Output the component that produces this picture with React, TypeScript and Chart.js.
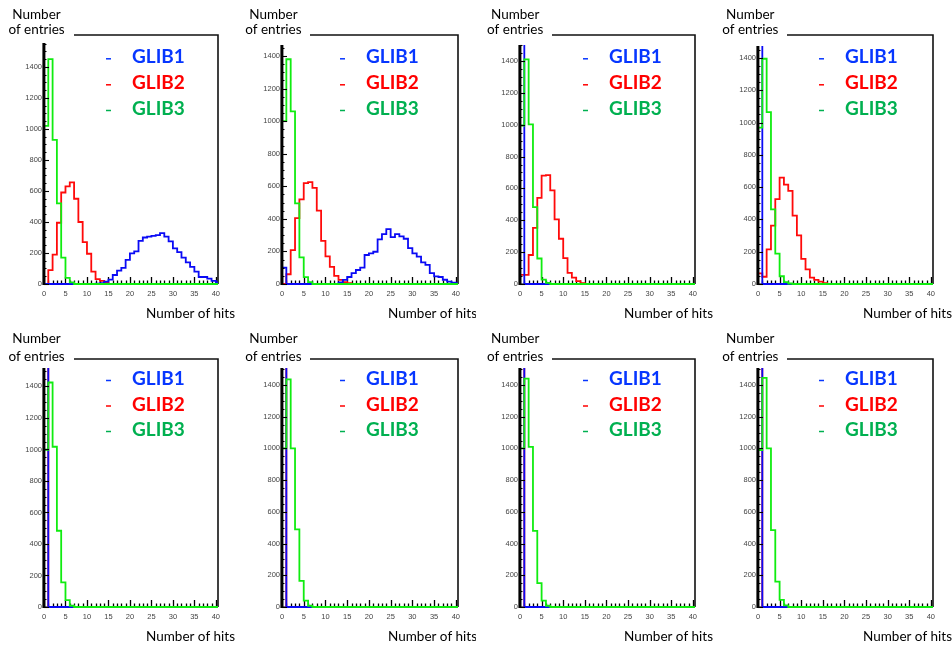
import React, { useEffect, useRef } from 'react';
import { Chart, registerables } from 'chart.js';

Chart.register(...registerables);

// ---------- data ----------
// lower edges of the 1-hit-wide bins, plus the closing edge
const binEdges = [
  0, 1, 2, 3, 4, 5, 6, 7, 8, 9,
  10, 11, 12, 13, 14, 15, 16, 17, 18, 19,
  20, 21, 22, 23, 24, 25, 26, 27, 28, 29,
  30, 31, 32, 33, 34, 35, 36, 37, 38, 39,
  40, 41,
];
const xTickValues = [0, 5, 10, 15, 20, 25, 30, 35, 40];
const yTickValues = [0, 200, 400, 600, 800, 1000, 1200, 1400];
const seriesNames = ['GLIB1', 'GLIB2', 'GLIB3'];
const yTitleLines = ['Number', 'of entries'];
const xTitle = 'Number of hits';

// panel 1 (top left)
const p1Glib1 = [
  0, 0, 0, 0, 0, 0, 0, 0, 0, 0,
  0, 0, 2, 5, 15, 28, 58, 86, 104, 155,
  198, 210, 278, 300, 305, 310, 315, 328, 305, 275,
  230, 205, 170, 140, 110, 80, 45, 45, 35, 20,
  10,
];
const p1Glib2 = [
  0, 90, 190, 395, 590, 630, 655, 550, 400, 270,
  195, 80, 32, 20, 8, 0, 0, 0, 0, 0,
  0, 0, 0, 0, 0, 0, 0, 0, 0, 0,
  0, 0, 0, 0, 0, 0, 0, 0, 0, 0,
  0,
];
const p1Glib3 = [
  1020, 1450, 930, 520, 170, 40, 10, 0, 0, 0,
  0, 0, 0, 0, 0, 0, 0, 0, 0, 0,
  0, 0, 0, 0, 0, 0, 0, 0, 0, 0,
  0, 0, 0, 0, 0, 0, 0, 0, 0, 0,
  0,
];

// panel 2
const p2Glib1 = [
  100, 0, 0, 0, 0, 0, 0, 0, 0, 0,
  0, 0, 0, 10, 25, 43, 67, 86, 100, 178,
  188, 198, 274, 306, 337, 288, 306, 292, 278, 220,
  188, 168, 133, 117, 67, 47, 43, 26, 15, 8,
  4,
];
const p2Glib2 = [
  0, 60, 208, 405, 520, 620, 625, 590, 450, 265,
  170, 105, 50, 25, 12, 5, 0, 0, 0, 0,
  0, 0, 0, 0, 0, 0, 0, 0, 0, 0,
  0, 0, 0, 0, 0, 0, 0, 0, 0, 0,
  0,
];
const p2Glib3 = [
  1000, 1380, 1060, 495, 163, 42, 12, 0, 0, 0,
  0, 0, 0, 0, 0, 0, 0, 0, 0, 0,
  0, 0, 0, 0, 0, 0, 0, 0, 0, 0,
  0, 0, 0, 0, 0, 0, 0, 0, 0, 0,
  0,
];

// panel 3
const p3Glib1 = [
  4100, 0, 0, 0, 0, 0, 0, 0, 0, 0,
  0, 0, 0, 0, 0, 0, 0, 0, 0, 0,
  0, 0, 0, 0, 0, 0, 0, 0, 0, 0,
  0, 0, 0, 0, 0, 0, 0, 0, 0, 0,
  0,
];
const p3Glib2 = [
  57, 57, 182, 352, 541, 680, 684, 588, 406, 284,
  162, 70, 40, 18, 6, 0, 0, 0, 0, 0,
  0, 0, 0, 0, 0, 0, 0, 0, 0, 0,
  0, 0, 0, 0, 0, 0, 0, 0, 0, 0,
  0,
];
const p3Glib3 = [
  995, 1410, 1002, 482, 160, 28, 7, 0, 0, 0,
  0, 0, 0, 0, 0, 0, 0, 0, 0, 0,
  0, 0, 0, 0, 0, 0, 0, 0, 0, 0,
  0, 0, 0, 0, 0, 0, 0, 0, 0, 0,
  0,
];

// panel 4
const p4Glib1 = [
  4100, 0, 0, 0, 0, 0, 0, 0, 0, 0,
  0, 0, 0, 0, 0, 0, 0, 0, 0, 0,
  0, 0, 0, 0, 0, 0, 0, 0, 0, 0,
  0, 0, 0, 0, 0, 0, 0, 0, 0, 0,
  0,
];
const p4Glib2 = [
  66, 45, 215, 362, 525, 659, 615, 577, 424, 301,
  156, 90, 40, 25, 15, 5, 0, 0, 0, 0,
  0, 0, 0, 0, 0, 0, 0, 0, 0, 0,
  0, 0, 0, 0, 0, 0, 0, 0, 0, 0,
  0,
];
const p4Glib3 = [
  969, 1395, 1064, 462, 188, 48, 12, 3, 0, 0,
  0, 0, 0, 0, 0, 0, 0, 0, 0, 0,
  0, 0, 0, 0, 0, 0, 0, 0, 0, 0,
  0, 0, 0, 0, 0, 0, 0, 0, 0, 0,
  0,
];

// panel 5 (bottom left)
const p5Glib1 = [
  4100, 0, 0, 0, 0, 0, 0, 0, 0, 0,
  0, 0, 0, 0, 0, 0, 0, 0, 0, 0,
  0, 0, 0, 0, 0, 0, 0, 0, 0, 0,
  0, 0, 0, 0, 0, 0, 0, 0, 0, 0,
  0,
];
const p5Glib2 = [
  4100, 0, 0, 0, 0, 0, 0, 0, 0, 0,
  0, 0, 0, 0, 0, 0, 0, 0, 0, 0,
  0, 0, 0, 0, 0, 0, 0, 0, 0, 0,
  0, 0, 0, 0, 0, 0, 0, 0, 0, 0,
  0,
];
const p5Glib3 = [
  998, 1425, 1017, 484, 156, 44, 8, 0, 0, 0,
  0, 0, 0, 0, 0, 0, 0, 0, 0, 0,
  0, 0, 0, 0, 0, 0, 0, 0, 0, 0,
  0, 0, 0, 0, 0, 0, 0, 0, 0, 0,
  0,
];

// panel 6
const p6Glib1 = [
  4100, 0, 0, 0, 0, 0, 0, 0, 0, 0,
  0, 0, 0, 0, 0, 0, 0, 0, 0, 0,
  0, 0, 0, 0, 0, 0, 0, 0, 0, 0,
  0, 0, 0, 0, 0, 0, 0, 0, 0, 0,
  0,
];
const p6Glib2 = [
  4100, 0, 0, 0, 0, 0, 0, 0, 0, 0,
  0, 0, 0, 0, 0, 0, 0, 0, 0, 0,
  0, 0, 0, 0, 0, 0, 0, 0, 0, 0,
  0, 0, 0, 0, 0, 0, 0, 0, 0, 0,
  0,
];
const p6Glib3 = [
  1000, 1435, 1000, 490, 165, 40, 8, 0, 0, 0,
  0, 0, 0, 0, 0, 0, 0, 0, 0, 0,
  0, 0, 0, 0, 0, 0, 0, 0, 0, 0,
  0, 0, 0, 0, 0, 0, 0, 0, 0, 0,
  0,
];

// panel 7
const p7Glib1 = [
  4100, 0, 0, 0, 0, 0, 0, 0, 0, 0,
  0, 0, 0, 0, 0, 0, 0, 0, 0, 0,
  0, 0, 0, 0, 0, 0, 0, 0, 0, 0,
  0, 0, 0, 0, 0, 0, 0, 0, 0, 0,
  0,
];
const p7Glib2 = [
  4100, 0, 0, 0, 0, 0, 0, 0, 0, 0,
  0, 0, 0, 0, 0, 0, 0, 0, 0, 0,
  0, 0, 0, 0, 0, 0, 0, 0, 0, 0,
  0, 0, 0, 0, 0, 0, 0, 0, 0, 0,
  0,
];
const p7Glib3 = [
  1000, 1440, 1010, 480, 150, 40, 8, 0, 0, 0,
  0, 0, 0, 0, 0, 0, 0, 0, 0, 0,
  0, 0, 0, 0, 0, 0, 0, 0, 0, 0,
  0, 0, 0, 0, 0, 0, 0, 0, 0, 0,
  0,
];

// panel 8
const p8Glib1 = [
  4100, 0, 0, 0, 0, 0, 0, 0, 0, 0,
  0, 0, 0, 0, 0, 0, 0, 0, 0, 0,
  0, 0, 0, 0, 0, 0, 0, 0, 0, 0,
  0, 0, 0, 0, 0, 0, 0, 0, 0, 0,
  0,
];
const p8Glib2 = [
  4100, 0, 0, 0, 0, 0, 0, 0, 0, 0,
  0, 0, 0, 0, 0, 0, 0, 0, 0, 0,
  0, 0, 0, 0, 0, 0, 0, 0, 0, 0,
  0, 0, 0, 0, 0, 0, 0, 0, 0, 0,
  0,
];
const p8Glib3 = [
  990, 1445, 1000, 485, 160, 45, 10, 0, 0, 0,
  0, 0, 0, 0, 0, 0, 0, 0, 0, 0,
  0, 0, 0, 0, 0, 0, 0, 0, 0, 0,
  0, 0, 0, 0, 0, 0, 0, 0, 0, 0,
  0,
];

const panelSeries = [
  [p1Glib1, p1Glib2, p1Glib3],
  [p2Glib1, p2Glib2, p2Glib3],
  [p3Glib1, p3Glib2, p3Glib3],
  [p4Glib1, p4Glib2, p4Glib3],
  [p5Glib1, p5Glib2, p5Glib3],
  [p6Glib1, p6Glib2, p6Glib3],
  [p7Glib1, p7Glib2, p7Glib3],
  [p8Glib1, p8Glib2, p8Glib3],
];
const panelYMax = [1606, 1529, 1563, 1542, 1574, 1564, 1564, 1564];
const xMax = 40.5;

// ---------- styles / layout ----------
const PANEL_W = 238;
const PANEL_H = 323;
const lineColors = ['#0a0af5', '#ff0a0a', '#10ec10'];
const legendColors = ['#0636ff', '#ff0000', '#00b050'];
const seriesOrder = [1, 2, 0];

const colLayout = [
  { titleCenterX: 36.5, frameStartX: 74, legendX: 132, hitsX: 146, right: 218 },
  { titleCenterX: 35.4, frameStartX: 72, legendX: 128, hitsX: 150, right: 220 },
  { titleCenterX: 39.2, frameStartX: 76, legendX: 133, hitsX: 148, right: 219 },
  { titleCenterX: 36.3, frameStartX: 73, legendX: 131, hitsX: 149, right: 219 },
];
const rowLayout = [
  { top: 35, numberBase: 18.5, entriesBase: 34.3, legendBase: [63.3, 89.3, 115] },
  { top: 36, numberBase: 20.3, entriesBase: 37.6, legendBase: [62, 87.5, 113] },
];
const axisTopOffsets = [8, 10, 10, 11, 9, 9, 9, 9];

const decorPlugin = {
  id: 'decor',
  beforeDatasetsDraw(chart: any, _args: any, o: any) {
    const { ctx, chartArea: a, scales } = chart;
    const x = scales.x;
    ctx.save();
    ctx.strokeStyle = '#111';
    ctx.lineWidth = 1.6;
    ctx.beginPath();
    ctx.moveTo(o.frameStartX, a.top);
    ctx.lineTo(a.right, a.top);
    ctx.lineTo(a.right, a.bottom);
    ctx.stroke();
    ctx.strokeStyle = '#000';
    ctx.lineWidth = 1;
    ctx.beginPath();
    ctx.moveTo(a.left, a.bottom);
    ctx.lineTo(a.right, a.bottom);
    ctx.stroke();
    ctx.lineWidth = 1.3;
    for (let v = 0; v <= 40; v += 1) {
      const px = Math.round(x.getPixelForValue(v)) + 0.5;
      const len = v % 5 === 0 ? 7 : 3.5;
      ctx.beginPath();
      ctx.moveTo(px, a.bottom);
      ctx.lineTo(px, a.bottom - len);
      ctx.stroke();
    }
    ctx.restore();
  },
  afterDatasetsDraw(chart: any, _args: any, o: any) {
    const { ctx, chartArea: a, scales } = chart;
    const y = scales.y;
    const axisTop = a.top + o.axisTopOffset;
    ctx.save();
    ctx.fillStyle = '#000';
    ctx.fillRect(a.left - 1.6, axisTop, 3, a.bottom - axisTop + 1);
    const topVal = y.getValueForPixel(axisTop);
    ctx.strokeStyle = '#000';
    ctx.lineWidth = 1.1;
    for (let v = 0; v <= topVal; v += 50) {
      const py = Math.round(y.getPixelForValue(v)) + 0.5;
      const len = v % 200 === 0 ? 5 : 2.5;
      ctx.beginPath();
      ctx.moveTo(a.left, py);
      ctx.lineTo(a.left + len, py);
      ctx.stroke();
    }
    ctx.restore();
  },
  afterDraw(chart: any, _args: any, o: any) {
    const { ctx } = chart;
    ctx.save();
    ctx.fillStyle = '#000';
    ctx.font = '13.5px Lato, "Liberation Sans", sans-serif';
    ctx.textBaseline = 'alphabetic';
    ctx.textAlign = 'center';
    ctx.fillText(yTitleLines[0], o.titleCenterX, o.numberBase);
    ctx.fillText(yTitleLines[1], o.titleCenterX, o.entriesBase);
    ctx.textAlign = 'left';
    ctx.fillText(xTitle, o.hitsX, 317.5);
    ctx.font = 'bold 19px Lato, "Liberation Sans", sans-serif';
    seriesNames.forEach((name, i) => {
      const base = o.legendBase[i];
      ctx.fillStyle = legendColors[i];
      ctx.fillText(name, o.legendX, base);
      ctx.strokeStyle = legendColors[i];
      ctx.lineWidth = 1.5;
      ctx.beginPath();
      ctx.moveTo(o.legendX - 26, base - 4.5);
      ctx.lineTo(o.legendX - 21, base - 4.5);
      ctx.stroke();
    });
    ctx.restore();
  },
};

function histPoints(values: number[]) {
  const pts = [{ x: binEdges[0], y: 0 }];
  values.forEach((v, i) => pts.push({ x: binEdges[i], y: v }));
  pts.push({ x: binEdges[values.length], y: values[values.length - 1] });
  return pts;
}

function HistPanel({ index }: { index: number }) {
  const ref = useRef<HTMLCanvasElement | null>(null);
  const col = index % 4;
  const row = Math.floor(index / 4);

  useEffect(() => {
    const cl = colLayout[col];
    const rl = rowLayout[row];
    const axisTopOffset = axisTopOffsets[index];
    const tickFont = { family: '"Liberation Sans", Arial, sans-serif', size: 7.5 };
    const chart = new Chart(ref.current as HTMLCanvasElement, {
      type: 'line',
      data: {
        datasets: panelSeries[index].map((vals, i) => ({
          label: seriesNames[i],
          data: histPoints(vals),
          borderColor: lineColors[i],
          backgroundColor: lineColors[i],
          borderWidth: 1.8,
          pointRadius: 0,
          pointHoverRadius: 0,
          stepped: true,
          fill: false,
          tension: 0,
          order: seriesOrder[i],
          clip: { left: 2, top: -axisTopOffset, right: 0, bottom: 2 },
        })),
      },
      options: {
        animation: false,
        responsive: false,
        events: [],
        layout: { padding: { left: 0, right: PANEL_W - cl.right, top: rl.top, bottom: 0 } },
        plugins: {
          legend: { display: false },
          tooltip: { enabled: false },
          decor: {
            frameStartX: cl.frameStartX,
            titleCenterX: cl.titleCenterX,
            legendX: cl.legendX,
            hitsX: cl.hitsX,
            numberBase: rl.numberBase,
            entriesBase: rl.entriesBase,
            legendBase: rl.legendBase,
            axisTopOffset,
          },
        } as any,
        scales: {
          x: {
            type: 'linear',
            min: 0,
            max: xMax,
            grid: { display: false, drawTicks: false, tickLength: 0 },
            border: { display: false },
            afterBuildTicks: (s: any) => {
              s.ticks = xTickValues.map((v) => ({ value: v }));
            },
            afterFit: (s: any) => {
              s.height = PANEL_H - 284;
            },
            ticks: {
              font: tickFont,
              color: '#444',
              padding: 5,
              maxRotation: 0,
              autoSkip: false,
              callback: (v: any) => String(v),
            },
          },
          y: {
            type: 'linear',
            min: 0,
            max: panelYMax[index],
            grid: { display: false, drawTicks: false, tickLength: 0 },
            border: { display: false },
            afterBuildTicks: (s: any) => {
              s.ticks = yTickValues.map((v) => ({ value: v }));
            },
            afterFit: (s: any) => {
              s.width = 44;
            },
            ticks: {
              font: tickFont,
              color: '#444',
              padding: 2,
              autoSkip: false,
              callback: (v: any) => String(v),
            },
          },
        },
      } as any,
      plugins: [decorPlugin as any],
    });
    return () => chart.destroy();
  }, [index, col, row]);

  return (
    <canvas
      ref={ref}
      width={PANEL_W}
      height={PANEL_H}
      style={{
        position: 'absolute',
        left: col * PANEL_W,
        top: row * PANEL_H,
        width: PANEL_W,
        height: PANEL_H,
      }}
    />
  );
}

export default function App() {
  return (
    <div
      style={{
        position: 'fixed',
        left: 0,
        top: 0,
        width: 952,
        height: 646,
        background: '#ffffff',
        overflow: 'hidden',
      }}
    >
      {panelSeries.map((_, i) => (
        <HistPanel key={i} index={i} />
      ))}
    </div>
  );
}
